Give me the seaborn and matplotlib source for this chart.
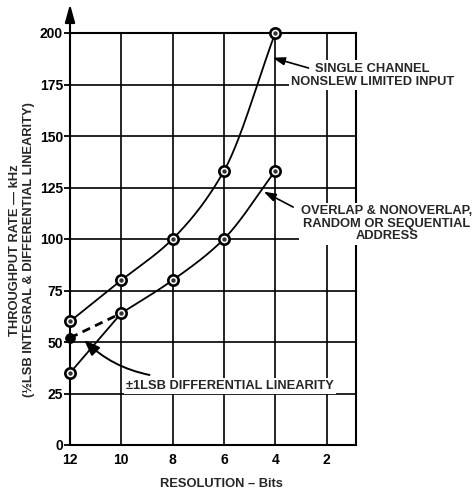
import numpy as np
import pandas as pd
import matplotlib
matplotlib.use("Agg")
import matplotlib.pyplot as plt
import seaborn as sns

# Resolution (bits) and throughput rate (kHz)
bits = [12, 10, 8, 6, 4]
single_channel = [60, 80, 100, 133, 200]
overlap = [35, 64, 80, 100, 133]
diff_bits = [12, 10]
diff_linearity = [52, 64]

x_ticks = [12, 10, 8, 6, 4, 2]
y_ticks = [0, 25, 50, 75, 100, 125, 150, 175, 200]


def pchip(x, y, n=60):
    """Monotone cubic (Fritsch-Carlson) curve through the given points."""
    x = np.asarray(x, float)
    y = np.asarray(y, float)
    order = np.argsort(x)
    x, y = x[order], y[order]
    h = np.diff(x)
    d = np.diff(y) / h
    m = np.zeros_like(y)
    m[0], m[-1] = d[0], d[-1]
    for k in range(1, len(x) - 1):
        if d[k - 1] * d[k] > 0:
            w1 = 2 * h[k] + h[k - 1]
            w2 = h[k] + 2 * h[k - 1]
            m[k] = (w1 + w2) / (w1 / d[k - 1] + w2 / d[k])
    xs, ys = [], []
    for k in range(len(x) - 1):
        t = np.linspace(0, 1, n)
        h00 = 2 * t**3 - 3 * t**2 + 1
        h10 = t**3 - 2 * t**2 + t
        h01 = -2 * t**3 + 3 * t**2
        h11 = t**3 - t**2
        xs.append(x[k] + t * h[k])
        ys.append(h00 * y[k] + h10 * h[k] * m[k] + h01 * y[k + 1] + h11 * h[k] * m[k + 1])
    return np.concatenate(xs), np.concatenate(ys)


sns.set_theme(style="white")
plt.rcParams["font.family"] = ["Liberation Sans", "DejaVu Sans"]
plt.rcParams["font.weight"] = "bold"

fig = plt.figure(figsize=(4.73, 4.92), dpi=100)
ax = fig.add_axes([70 / 473, 47 / 492, 286 / 473, 412 / 492])

# Smooth curves through the measured points
sx, sy = pchip(bits, single_channel)
ox, oy = pchip(bits[1:], overlap[1:])
for cx, cy in [(sx, sy), (ox, oy)]:
    sns.lineplot(data=pd.DataFrame({"bits": cx, "rate": cy}), x="bits", y="rate",
                 sort=False, estimator=None, color="black", lw=1.3, ax=ax, zorder=4)
# straight first segment of the overlap curve
sns.lineplot(x=bits[:2], y=overlap[:2], sort=False, estimator=None,
             color="black", lw=1.3, ax=ax, zorder=4)
# dashed ±1LSB segment
sns.lineplot(x=diff_bits, y=diff_linearity, sort=False, estimator=None,
             color="black", lw=2.0, ax=ax, zorder=4, linestyle=(0, (3, 2)))

# Circled-dot markers
pts = pd.DataFrame({"bits": bits * 2, "rate": single_channel + overlap})
sns.scatterplot(data=pts, x="bits", y="rate", s=55, facecolor="white",
                edgecolor="black", linewidth=1.9, ax=ax, zorder=5)
sns.scatterplot(data=pts, x="bits", y="rate", s=10, color="#333333",
                linewidth=0, ax=ax, zorder=6)
sns.scatterplot(x=diff_bits[:1], y=diff_linearity[:1], s=50, color="black",
                edgecolor="black", ax=ax, zorder=6)
for coll in ax.collections:
    coll.set_clip_on(False)

ax.set_xlim(12, 0.85)
ax.set_ylim(0, 200)
ax.set_xticks(x_ticks)
ax.set_xticklabels([str(v) for v in x_ticks], fontsize=10, fontweight="bold")
ax.set_yticks(y_ticks)
ax.set_yticklabels([str(v) for v in y_ticks], fontsize=10, fontweight="bold")
ax.tick_params(axis="y", direction="out", length=4, width=1.3, pad=1, colors="black", left=True)
ax.tick_params(axis="x", length=0, pad=6, colors="black")
ax.grid(True, color="black", lw=1.2)
ax.set_axisbelow(True)
for s in ax.spines.values():
    s.set_color("black")
    s.set_linewidth(1.5)
ax.set_xlabel("")
ax.set_ylabel("")

# Extended y axis with arrow head
ax.annotate("", xy=(12, 214), xytext=(12, 199), annotation_clip=False,
            arrowprops=dict(arrowstyle="-|>,head_length=0.9,head_width=0.25",
                            color="black", lw=1.5, shrinkA=0, shrinkB=0))

box = dict(facecolor="white", edgecolor="none", pad=1.5)
ax.text(0.2, 179.5, "SINGLE CHANNEL\nNONSLEW LIMITED INPUT", ha="center", va="center",
        fontsize=9.3, fontweight="bold", linespacing=1.15, bbox=box, clip_on=False, zorder=3)
ax.annotate("", xy=(4.1, 188), xytext=(2.7, 183), annotation_clip=False,
            arrowprops=dict(arrowstyle="-|>,head_length=0.6,head_width=0.2",
                            color="black", lw=1.2, shrinkA=0, shrinkB=0))

ax.text(-0.35, 107.5, "OVERLAP & NONOVERLAP,\nRANDOM OR SEQUENTIAL\nADDRESS", ha="center", va="center",
        fontsize=9.3, fontweight="bold", linespacing=1.1, bbox=box, clip_on=False, zorder=3)
ax.annotate("", xy=(4.45, 123), xytext=(3.3, 115.5), annotation_clip=False,
            arrowprops=dict(arrowstyle="-|>,head_length=0.6,head_width=0.2",
                            color="black", lw=1.2, shrinkA=0, shrinkB=0))

ax.text(5.75, 28.5, "±1LSB DIFFERENTIAL LINEARITY", ha="center", va="center",
        fontsize=9.3, fontweight="bold", bbox=box, zorder=3)
ax.annotate("", xy=(11.45, 51), xytext=(8.9, 34), annotation_clip=False,
            arrowprops=dict(arrowstyle="-|>,head_length=0.8,head_width=0.3",
                            connectionstyle="arc3,rad=-0.15",
                            color="black", lw=1.4, shrinkA=0, shrinkB=0))

fig.text(22 / 473, 1 - 250 / 492,
         "THROUGHPUT RATE — kHz\n(½LSB INTEGRAL & DIFFERENTIAL LINEARITY)",
         rotation=90, ha="center", va="center", fontsize=9.3, fontweight="bold",
         multialignment="center", linespacing=1.25)
fig.text(221 / 473, 1 - 484 / 492, "RESOLUTION – Bits", ha="center", va="center",
         fontsize=9.3, fontweight="bold")

fig.savefig("out.png", dpi=100, facecolor="white")
